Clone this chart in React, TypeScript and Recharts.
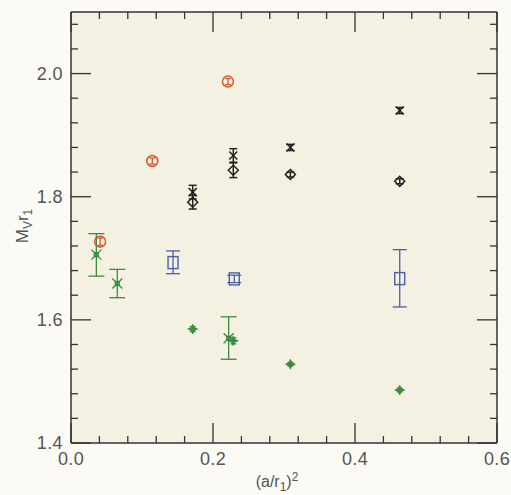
import React from 'react';
import { ScatterChart, Scatter, XAxis, YAxis, ErrorBar, CartesianGrid } from 'recharts';

// tick positions (majors every 0.2, minors every 0.04)
const xTicks = [0, 0.04, 0.08, 0.12, 0.16, 0.2, 0.24, 0.28, 0.32, 0.36, 0.4, 0.44, 0.48, 0.52, 0.56, 0.6];
const yTicks = [1.4, 1.44, 1.48, 1.52, 1.56, 1.6, 1.64, 1.68, 1.72, 1.76, 1.8, 1.84, 1.88, 1.92, 1.96, 2.0, 2.04, 2.08];

// red open circles
const redX = [0.041, 0.1145, 0.221];
const redY = [1.727, 1.858, 1.987];
const redErr = [0.006, 0.005, 0.005];

// black crosses
const blackXX = [0.1714, 0.2286, 0.309, 0.463];
const blackXY = [1.8075, 1.867, 1.880, 1.940];
const blackXErr = [0.011, 0.011, 0.005, 0.005];

// black diamonds
const diamondX = [0.1714, 0.2286, 0.309, 0.463];
const diamondY = [1.791, 1.843, 1.836, 1.825];
const diamondErr = [0.011, 0.012, 0.004, 0.004];

// blue squares
const blueX = [0.1437, 0.230, 0.463];
const blueY = [1.693, 1.6665, 1.667];
const blueErr: [number, number][] = [[0.018, 0.019], [0.006, 0.006], [0.046, 0.047]];

// green crosses
const greenXX = [0.0357, 0.0652, 0.222];
const greenXY = [1.706, 1.659, 1.570];
const greenXErr: [number, number][] = [[0.035, 0.034], [0.023, 0.023], [0.034, 0.035]];

// green pluses
const plusX = [0.1714, 0.2286, 0.309, 0.463];
const plusY = [1.585, 1.566, 1.528, 1.486];
const plusErr = [0.004, 0.005, 0.003, 0.003];

const RED = '#d4572e';
const BLACK = '#222222';
const BLUE = '#4c5fa8';
const GREEN = '#3d8b3d';
const AXIS = '#333333';
const TEXT = '#555555';

const build = (xs: number[], ys: number[], errs: any[]) =>
  xs.map((x, i) => ({ x, y: ys[i], err: errs[i] }));

const redData = build(redX, redY, redErr);
const blackXData = build(blackXX, blackXY, blackXErr);
const diamondData = build(diamondX, diamondY, diamondErr);
const blueData = build(blueX, blueY, blueErr);
const greenXData = build(greenXX, greenXY, greenXErr);
const plusData = build(plusX, plusY, plusErr);

const isMajor = (v: number, start: number) => {
  const k = (v - start) / 0.2;
  return Math.abs(k - Math.round(k)) < 1e-6;
};

const tickFont = { fontFamily: '"Liberation Sans", Arial, sans-serif', fontSize: 18, fill: TEXT, letterSpacing: 0.4 };

const BottomTick = (props: any) => {
  const { x, y, payload } = props;
  const major = isMajor(payload.value, 0);
  return (
    <g>
      <line x1={x} x2={x} y1={y} y2={y - (major ? 20 : 7)} stroke={AXIS} strokeWidth={1.3} />
      {major && (
        <text x={x} y={y + 22} textAnchor="middle" {...tickFont}>
          {payload.value.toFixed(1)}
        </text>
      )}
    </g>
  );
};

const TopTick = (props: any) => {
  const { x, y, payload } = props;
  const major = isMajor(payload.value, 0);
  return <line x1={x} x2={x} y1={y} y2={y + (major ? 20 : 7)} stroke={AXIS} strokeWidth={1.3} />;
};

const LeftTick = (props: any) => {
  const { x, y, payload } = props;
  const major = isMajor(payload.value, 1.4);
  return (
    <g>
      <line x1={x} x2={x + (major ? 20 : 7)} y1={y} y2={y} stroke={AXIS} strokeWidth={1.3} />
      {major && (
        <text x={x - 8} y={y} dy="0.36em" textAnchor="end" {...tickFont}>
          {payload.value.toFixed(1)}
        </text>
      )}
    </g>
  );
};

const RightTick = (props: any) => {
  const { x, y, payload } = props;
  const major = isMajor(payload.value, 1.4);
  return <line x1={x} x2={x - (major ? 20 : 7)} y1={y} y2={y} stroke={AXIS} strokeWidth={1.3} />;
};

// marker shapes
const circleShape = (p: any) => (
  <circle cx={p.cx} cy={p.cy} r={5.5} fill="none" stroke={RED} strokeWidth={1.5} />
);

const crossShape = (color: string) => (p: any) => (
  <g stroke={color} strokeWidth={1.5}>
    <line x1={p.cx - 4} y1={p.cy - 4} x2={p.cx + 4} y2={p.cy + 4} />
    <line x1={p.cx - 4} y1={p.cy + 4} x2={p.cx + 4} y2={p.cy - 4} />
  </g>
);

const greenCrossShape = (p: any) => (
  <g stroke={GREEN} strokeWidth={1.3} fill="none">
    <line x1={p.cx - 5} y1={p.cy - 5} x2={p.cx + 5} y2={p.cy + 5} />
    <line x1={p.cx - 5} y1={p.cy + 5} x2={p.cx + 5} y2={p.cy - 5} />
    <rect x={p.cx - 2} y={p.cy - 2} width={4} height={4} />
  </g>
);

const diamondShape = (p: any) => (
  <polygon
    points={`${p.cx},${p.cy - 5} ${p.cx + 5},${p.cy} ${p.cx},${p.cy + 5} ${p.cx - 5},${p.cy}`}
    fill="none"
    stroke={BLACK}
    strokeWidth={1.5}
  />
);

const squareShape = (p: any) => (
  <rect x={p.cx - 5} y={p.cy - 6} width={10} height={12} fill="none" stroke={BLUE} strokeWidth={1.4} />
);

const plusShape = (p: any) => {
  const { cx, cy } = p;
  const pts = [
    [0, -5], [1.5, -1.5], [5, 0], [1.5, 1.5], [0, 5], [-1.5, 1.5], [-5, 0], [-1.5, -1.5],
  ].map(([dx, dy]) => `${cx + dx},${cy + dy}`).join(' ');
  return <polygon points={pts} fill={GREEN} stroke={GREEN} strokeWidth={0.8} />;
};

export default function App() {
  return (
    <div style={{ position: 'absolute', left: 0, top: 0, width: 511, height: 495, background: '#fbfaf4' }}>
      <ScatterChart width={511} height={495} margin={{ top: 10, right: 12, bottom: 0, left: 0 }}>
        <CartesianGrid horizontal={false} vertical={false} fill="#f5f1e2" />
        <XAxis
          dataKey="x"
          type="number"
          domain={[0, 0.6]}
          ticks={xTicks}
          interval={0}
          allowDataOverflow
          height={52}
          tickSize={0}
          tickMargin={0}
          tickLine={false}
          axisLine={{ stroke: AXIS, strokeWidth: 1.5 }}
          tick={<BottomTick />}
        />
        <XAxis
          xAxisId="top"
          orientation="top"
          dataKey="x"
          type="number"
          domain={[0, 0.6]}
          ticks={xTicks}
          interval={0}
          allowDataOverflow
          height={2}
          tickSize={0}
          tickMargin={0}
          tickLine={false}
          axisLine={{ stroke: AXIS, strokeWidth: 1.5 }}
          tick={<TopTick />}
        />
        <YAxis
          dataKey="y"
          type="number"
          domain={[1.4, 2.1]}
          ticks={yTicks}
          interval={0}
          allowDataOverflow
          width={71}
          tickSize={0}
          tickMargin={0}
          tickLine={false}
          axisLine={{ stroke: AXIS, strokeWidth: 1.5 }}
          tick={<LeftTick />}
        />
        <YAxis
          yAxisId="right"
          orientation="right"
          dataKey="y"
          type="number"
          domain={[1.4, 2.1]}
          ticks={yTicks}
          interval={0}
          allowDataOverflow
          width={2}
          tickSize={0}
          tickMargin={0}
          tickLine={false}
          axisLine={{ stroke: AXIS, strokeWidth: 1.5 }}
          tick={<RightTick />}
        />

        <Scatter data={greenXData} shape={greenCrossShape} isAnimationActive={false}>
          <ErrorBar dataKey="err" direction="y" width={8} stroke={GREEN} strokeWidth={1.3} isAnimationActive={false} />
        </Scatter>
        <Scatter data={redData} shape={circleShape} isAnimationActive={false}>
          <ErrorBar dataKey="err" direction="y" width={3} stroke={RED} strokeWidth={1.3} isAnimationActive={false} />
        </Scatter>
        <Scatter data={blackXData} shape={crossShape(BLACK)} isAnimationActive={false}>
          <ErrorBar dataKey="err" direction="y" width={4} stroke={BLACK} strokeWidth={1.5} isAnimationActive={false} />
        </Scatter>
        <Scatter data={diamondData} shape={diamondShape} isAnimationActive={false}>
          <ErrorBar dataKey="err" direction="y" width={4} stroke={BLACK} strokeWidth={1.5} isAnimationActive={false} />
        </Scatter>
        <Scatter data={blueData} shape={squareShape} isAnimationActive={false}>
          <ErrorBar dataKey="err" direction="y" width={7} stroke={BLUE} strokeWidth={1.3} isAnimationActive={false} />
        </Scatter>
        <Scatter data={plusData} shape={plusShape} isAnimationActive={false}>
          <ErrorBar dataKey="err" direction="y" width={3} stroke={GREEN} strokeWidth={1.3} isAnimationActive={false} />
        </Scatter>
      </ScatterChart>

      <div
        style={{
          position: 'absolute',
          left: 277,
          top: 482,
          transform: 'translate(-50%, -50%)',
          fontFamily: '"Liberation Sans", Arial, sans-serif',
          fontSize: 16,
          color: TEXT,
          whiteSpace: 'nowrap',
          lineHeight: 1,
        }}
      >
        (a/r<sub style={{ fontSize: 12 }}>1</sub>)<sup style={{ fontSize: 12 }}>2</sup>
      </div>
      <div
        style={{
          position: 'absolute',
          left: 24,
          top: 226,
          transform: 'translate(-50%, -50%) rotate(-90deg)',
          fontFamily: '"Liberation Sans", Arial, sans-serif',
          fontSize: 17,
          color: TEXT,
          whiteSpace: 'nowrap',
          lineHeight: 1,
        }}
      >
        M<sub style={{ fontSize: 12 }}>V</sub>r<sub style={{ fontSize: 12 }}>1</sub>
      </div>
    </div>
  );
}
